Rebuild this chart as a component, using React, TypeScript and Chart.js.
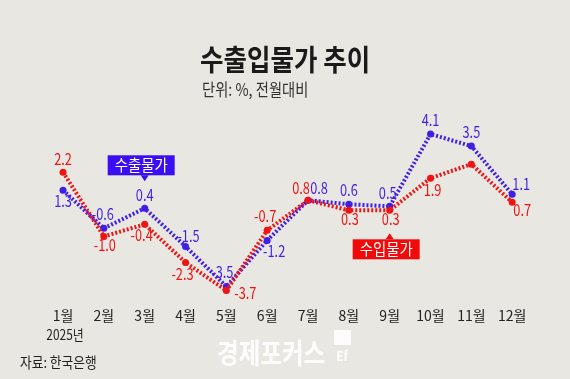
import React, { useEffect, useRef } from "react";
import { Chart, registerables } from "chart.js";

Chart.register(...registerables);

// ---- data ----
const months = ["1월", "2월", "3월", "4월", "5월", "6월", "7월", "8월", "9월", "10월", "11월", "12월"];
const exportPrices = [1.3, -0.6, 0.4, -1.5, -3.5, -1.2, 0.8, 0.6, 0.5, 4.1, 3.5, 1.1];
const importPrices = [2.2, -1.0, -0.4, -2.3, -3.7, -0.7, 0.8, 0.3, 0.3, 1.9, 2.6, 0.7];
const exportName = "수출물가";
const importName = "수입물가";
const titleText = "수출입물가 추이";
const subtitleText = "단위: %, 전월대비";
const yearText = "2025년";
const sourceText = "자료: 한국은행";
const watermarkText = "경제포커스";

// ---- style ----
const BG = "#E9E7E2";
const BLUE = "#3F1FE3";
const RED = "#EE1414";
const BLUE_BOX = "#3A0DF2";
const RED_BOX = "#F20A0A";

// label offsets (dx, dy) relative to each point; null = no label
const exportLabelOffsets: ([number, number] | null)[] = [
  [0, 11], [-1, -14], [0, -13], [3, -10], [-4, -15], [7, 11],
  [11, -12], [0, -14], [-2, -13], [0, -14], [0, -14], [9, -10],
];
const importLabelOffsets: ([number, number] | null)[] = [
  [0, -13], [1, 9], [-3, 11], [-3, 11], [19, 2], [-2, -14],
  [-7, -12], [1, 9], [1, 9], [2, 12], null, [10, 8],
];

function txt(
  ctx: CanvasRenderingContext2D,
  s: string,
  x: number,
  y: number,
  font: string,
  color: string,
  sx = 1,
  align: CanvasTextAlign = "center"
) {
  ctx.save();
  ctx.font = font;
  ctx.fillStyle = color;
  ctx.textBaseline = "middle";
  ctx.textAlign = align;
  ctx.translate(x, y);
  ctx.scale(sx, 1);
  ctx.fillText(s, 0, 0);
  ctx.restore();
}

const FONT = '"Noto Sans CJK KR", "Noto Sans", sans-serif';

const decorPlugin = {
  id: "decor",
  beforeDraw(chart: any) {
    const ctx = chart.ctx as CanvasRenderingContext2D;
    ctx.save();
    ctx.fillStyle = BG;
    ctx.fillRect(0, 0, chart.width, chart.height);
    ctx.restore();
  },
  afterDatasetsDraw(chart: any) {
    const ctx = chart.ctx as CanvasRenderingContext2D;
    // titles
    txt(ctx, titleText, 200, 60, `bold 29px ${FONT}`, "#1a1a1a", 0.88, "left");
    txt(ctx, subtitleText, 202, 90, `17px ${FONT}`, "#333", 0.84, "left");

    // data labels
    const metaImp = chart.getDatasetMeta(0);
    const metaExp = chart.getDatasetMeta(1);
    const drawLabels = (meta: any, vals: number[], offs: ([number, number] | null)[], color: string) => {
      meta.data.forEach((pt: any, i: number) => {
        const o = offs[i];
        if (!o) return;
        txt(ctx, vals[i].toFixed(1), pt.x + o[0], pt.y + o[1], `16px ${FONT}`, color, 0.8);
      });
    };
    drawLabels(metaExp, exportPrices, exportLabelOffsets, BLUE);
    drawLabels(metaImp, importPrices, importLabelOffsets, RED);

    // callouts
    const callout = (tipX: number, tipY: number, down: boolean, label: string, fill: string) => {
      const w = 67;
      const h = 20;
      const left = tipX - 37;
      const top = down ? tipY - 6 - h : tipY + 6;
      ctx.save();
      ctx.fillStyle = fill;
      ctx.fillRect(left, top, w, h);
      ctx.beginPath();
      if (down) {
        ctx.moveTo(tipX - 4, top + h);
        ctx.lineTo(tipX + 4, top + h);
        ctx.lineTo(tipX, tipY);
      } else {
        ctx.moveTo(tipX - 4, top);
        ctx.lineTo(tipX + 4, top);
        ctx.lineTo(tipX, tipY);
      }
      ctx.closePath();
      ctx.fill();
      ctx.restore();
      txt(ctx, label, left + w / 2, top + h / 2, `16px ${FONT}`, "#ffffff", 0.9);
    };
    const pe = metaExp.data[2];
    callout(pe.x, pe.y - 27, true, exportName, BLUE_BOX);
    const pi = metaImp.data[8];
    callout(pi.x, pi.y + 23, false, importName, RED_BOX);

    // year, source, watermark
    txt(ctx, yearText, 65, 335, `14px ${FONT}`, "#222", 0.85);
    txt(ctx, sourceText, 20, 362, `15px ${FONT}`, "#222", 0.85, "left");
    txt(ctx, watermarkText, 217, 353, `bold 28px ${FONT}`, "rgba(255,255,255,0.92)", 0.84, "left");
    ctx.save();
    ctx.fillStyle = "rgba(255,255,255,0.92)";
    ctx.fillRect(334, 330, 17, 15);
    ctx.restore();
    txt(ctx, "Ef", 342, 356, `bold 13px ${FONT}`, "rgba(255,255,255,0.92)", 0.9);
  },
};

export default function App() {
  const ref = useRef<HTMLCanvasElement | null>(null);
  useEffect(() => {
    document.body.style.margin = "0";
    if (!ref.current) return;
    const chart = new Chart(ref.current, {
      type: "line",
      data: {
        labels: months,
        datasets: [
          {
            label: importName,
            data: importPrices,
            borderColor: RED,
            backgroundColor: RED,
            borderWidth: 4,
            borderDash: [2, 2],
            pointRadius: 3.5,
            pointBorderWidth: 0,
            pointBackgroundColor: RED,
            tension: 0,
            order: 1,
          },
          {
            label: exportName,
            data: exportPrices,
            borderColor: BLUE,
            backgroundColor: BLUE,
            borderWidth: 4,
            borderDash: [2, 2],
            pointRadius: 3.5,
            pointBorderWidth: 0,
            pointBackgroundColor: BLUE,
            tension: 0,
            order: 2,
          },
        ],
      },
      options: {
        animation: false,
        responsive: false,
        devicePixelRatio: 1,
        layout: { padding: { left: 42.6, right: 37.4, top: 116, bottom: 51.6 } },
        plugins: { legend: { display: false }, tooltip: { enabled: false }, title: { display: false } },
        scales: {
          x: {
            offset: true,
            grid: { display: false, drawTicks: false },
            border: { display: false },
            ticks: {
              color: "#222",
              font: { family: '"Noto Sans CJK KR", "Noto Sans", sans-serif', size: 14 },
              padding: 3,
              autoSkip: false,
              maxRotation: 0,
            },
          },
          y: { display: false, min: -4.4, max: 5 },
        },
      },
      plugins: [decorPlugin],
    });
    return () => chart.destroy();
  }, []);
  return (
    <div style={{ width: 570, height: 379, background: BG }}>
      <canvas ref={ref} width={570} height={379} style={{ display: "block" }} />
    </div>
  );
}
